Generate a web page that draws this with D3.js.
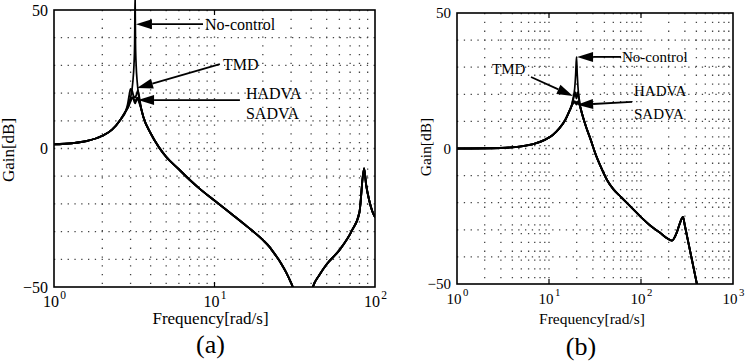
<!DOCTYPE html>
<html><head><meta charset="utf-8">
<script src="https://cdn.jsdelivr.net/npm/d3@7"></script>
<style>
body{margin:0;background:#fff}
svg{display:block}
text{font-family:"Liberation Serif","Times New Roman",serif;fill:#000}
</style>
</head><body>
<svg id="chart" width="747" height="361"></svg>
<script>
// ---------- Panel (a) data ----------
const aLowFreq = [1, 1.3, 1.6, 2, 2.3, 2.6, 2.8];
const aLowGain = [1.5, 1.9, 2.7, 4.6, 6.8, 10.5, 13.5];
const aNoCtrlFreq = [2.9, 3.0, 3.1, 3.15, 3.18, 3.2, 3.22, 3.25, 3.3, 3.4, 3.5];
const aNoCtrlGain = [14.9, 18.3, 24.2, 30.2, 38, 56, 38, 30, 23.9, 17.8, 14.2];
const aTmdFreq = [2.88, 2.95, 3.0, 3.06, 3.13, 3.2, 3.27, 3.33, 3.4, 3.5];
const aTmdGain = [16, 19.5, 21.5, 21, 19, 18.5, 19.5, 21, 18.5, 14.2];
const aHadvaFreq = [2.9, 3.0, 3.1, 3.2, 3.3, 3.4, 3.5];
const aHadvaGain = [15.5, 18, 18.3, 17, 18.3, 17, 14.2];
const aSadvaFreq = [2.9, 3.0, 3.1, 3.2, 3.3, 3.4, 3.5];
const aSadvaGain = [15, 17, 18.5, 16.3, 18, 16.5, 14.2];
const aHighFreq = [3.6, 4, 4.5, 5, 6, 7, 8, 10, 13, 16, 20, 22, 24, 26, 28, 30, 31, 34, 37, 41, 45, 50, 60, 72, 80, 85.5, 88, 92, 96, 100];
const aHighGain = [11.5, 5.5, 0.5, -3, -7.5, -11.3, -14.3, -18.8, -24, -28.2, -33, -35.5, -38.5, -41.5, -44.8, -48.5, -50.5, -62, -62, -50, -45.7, -41.8, -36.7, -29.5, -23, -7.2, -13, -18.7, -22.5, -24.8];
const aXTickExp = [0, 1, 2];

// ---------- Panel (b) data ----------
const bLowFreq = [1, 3, 5, 7, 9, 11, 13, 15, 16.5, 17.5];
const bLowGain = [0, 0.2, 0.8, 1.8, 3.2, 5, 7.5, 10.5, 13.5, 15.5];
const bNoCtrlFreq = [18, 19, 19.5, 19.9, 20.3, 21, 22];
const bNoCtrlGain = [17.5, 22, 27.5, 33.8, 27, 19.5, 15];
const bTmdFreq = [18, 18.6, 19.2, 19.9, 20.6, 21.2, 22];
const bTmdGain = [17, 19, 20.8, 18.5, 20.8, 18.5, 15];
const bHadvaFreq = [18, 19, 19.9, 20.8, 22];
const bHadvaGain = [16.5, 17.5, 16.2, 17.5, 15];
const bSadvaFreq = [18, 19, 19.9, 20.8, 22];
const bSadvaGain = [16.3, 16.9, 17, 16.8, 15];
const bHighFreq = [22.3, 25, 28.5, 32, 36.6, 42.7, 50, 60.6, 80, 100, 130, 160, 190, 217, 245, 265, 286, 300, 323, 360, 405, 440];
const bHighGain = [14.2, 8.5, 3.1, -2, -6.8, -11.6, -15, -17.9, -22, -25.3, -28.8, -31, -33, -34, -31, -27.5, -25.3, -28.5, -33.8, -41.5, -50, -56];
const bXTickExp = [0, 1, 2, 3];

// ---------- shared ----------
const yTickValues = [-50, 0, 50];
const yGridValues = [-40, -30, -20, -10, 0, 10, 20, 30, 40];
const seriesNames = ["No-control", "TMD", "HADVA", "SADVA"];

// annotations (data coordinates: frequency, gain)
const aNoteLabels = [["No-control"], ["TMD"], ["HADVA", "SADVA"]];
const aNoteTipFreq = [3.24, 3.29, 3.34];
const aNoteTipGain = [44.9, 21.8, 17.5];
const aNoteTailFreq = [8.48, 10.8, 14.4];
const aNoteTailGain = [44.9, 30.5, 17.5];
const aNoteTextFreq = [8.73, 11.3, 15.7];
const aNoteTextGain = [[44.9], [30.5], [19.7, 12.5]];

const bNoteLabels = [["No-control"], ["TMD"], ["HADVA", "SADVA"]];
const bNoteTipFreq = [20.2, 18.2, 20.2];
const bNoteTipGain = [33.8, 19.4, 16.1];
const bNoteTailFreq = [60.6, 6.37, 79.8];
const bNoteTailGain = [33.8, 26.4, 17.2];
const bNoteTextFreq = [62.1, 2.4, 83.9];
const bNoteTextGain = [[33.8], [29.3], [21.2, 12.7]];

function zip(f, g) { return f.map((v, i) => ({f: v, g: g[i]})); }
function build(low, peak, high) { return low.concat(peak, high); }

const panels = [
  {
    id: "a", caption: "(a)", xMax: 100, exps: aXTickExp,
    box: {l: 54, r: 375, t: 10, b: 287},
    tickFont: 16, titleFont: 17, noteFont: 16, capFont: 26,
    capY: 353, titleY: 324, gainX: 9, gainY: 150,
    series: [
      build(zip(aLowFreq, aLowGain), zip(aNoCtrlFreq, aNoCtrlGain), zip(aHighFreq, aHighGain)),
      build(zip(aLowFreq, aLowGain), zip(aTmdFreq, aTmdGain), zip(aHighFreq, aHighGain)),
      build(zip(aLowFreq, aLowGain), zip(aHadvaFreq, aHadvaGain), zip(aHighFreq, aHighGain)),
      build(zip(aLowFreq, aLowGain), zip(aSadvaFreq, aSadvaGain), zip(aHighFreq, aHighGain))
    ],
    notes: aNoteLabels.map((lab, i) => ({lab, tipF: aNoteTipFreq[i], tipG: aNoteTipGain[i],
      tailF: aNoteTailFreq[i], tailG: aNoteTailGain[i], tf: aNoteTextFreq[i], tg: aNoteTextGain[i]}))
  },
  {
    id: "b", caption: "(b)", xMax: 1000, exps: bXTickExp,
    box: {l: 457, r: 733, t: 13, b: 284},
    tickFont: 15, titleFont: 15.5, noteFont: 15, capFont: 26,
    capY: 355, titleY: 324, gainX: 426, gainY: 147,
    series: [
      build(zip(bLowFreq, bLowGain), zip(bNoCtrlFreq, bNoCtrlGain), zip(bHighFreq, bHighGain)),
      build(zip(bLowFreq, bLowGain), zip(bTmdFreq, bTmdGain), zip(bHighFreq, bHighGain)),
      build(zip(bLowFreq, bLowGain), zip(bHadvaFreq, bHadvaGain), zip(bHighFreq, bHighGain)),
      build(zip(bLowFreq, bLowGain), zip(bSadvaFreq, bSadvaGain), zip(bHighFreq, bHighGain))
    ],
    notes: bNoteLabels.map((lab, i) => ({lab, tipF: bNoteTipFreq[i], tipG: bNoteTipGain[i],
      tailF: bNoteTailFreq[i], tailG: bNoteTailGain[i], tf: bNoteTextFreq[i], tg: bNoteTextGain[i]}))
  }
];

const svg = d3.select("#chart");

panels.forEach(p => {
  const B = p.box;
  const x = d3.scaleLog().domain([1, p.xMax]).range([B.l, B.r]);
  const y = d3.scaleLinear().domain([-50, 50]).range([B.b, B.t]);
  const g = svg.append("g").attr("class", "panel-" + p.id);

  const nDec = p.exps.length - 1;
  const vGrid = [];
  for (let d = 0; d < nDec; d++) {
    const base = Math.pow(10, d);
    if (d > 0) vGrid.push(base);
    for (let k = 2; k <= 9; k++) vGrid.push(k * base);
  }
  g.append("g").selectAll("line").data(vGrid).join("line")
    .attr("x1", d => x(d)).attr("x2", d => x(d))
    .attr("y1", B.t).attr("y2", B.b)
    .attr("stroke", "#444").attr("stroke-width", 1.3)
    .attr("stroke-dasharray", "1.3,7.5");
  g.append("g").selectAll("line").data(yGridValues).join("line")
    .attr("x1", B.l).attr("x2", B.r)
    .attr("y1", d => y(d)).attr("y2", d => y(d))
    .attr("stroke", "#444").attr("stroke-width", 1.3)
    .attr("stroke-dasharray", "1.3,5.5");

  const clipId = "clip-" + p.id;
  svg.append("clipPath").attr("id", clipId).append("rect")
    .attr("x", B.l).attr("y", 0).attr("width", B.r - B.l).attr("height", B.b);

  const line = d3.line().x(d => x(d.f)).y(d => y(d.g)).curve(d3.curveMonotoneX);
  g.append("g").attr("clip-path", `url(#${clipId})`)
    .selectAll("path").data(p.series).join("path")
    .attr("d", line)
    .attr("fill", "none").attr("stroke", "#000")
    .attr("stroke-width", (d, i) => i === 0 ? 1.7 : 1.9)
    .attr("stroke-linejoin", "round")
    .attr("data-series", (d, i) => seriesNames[i]);

  g.append("rect").attr("x", B.l).attr("y", B.t)
    .attr("width", B.r - B.l).attr("height", B.b - B.t)
    .attr("fill", "none").attr("stroke", "#000").attr("stroke-width", 1.6);

  const decs = p.exps.slice(1, -1).map(e => Math.pow(10, e));
  g.append("g").selectAll("line").data(decs).join("line")
    .attr("x1", d => x(d)).attr("x2", d => x(d))
    .attr("y1", B.t).attr("y2", B.t + 5)
    .attr("stroke", "#000").attr("stroke-width", 1.2);
  g.append("g").selectAll("line").data(decs).join("line")
    .attr("x1", d => x(d)).attr("x2", d => x(d))
    .attr("y1", B.b).attr("y2", B.b - 5)
    .attr("stroke", "#000").attr("stroke-width", 1.2);

  const yAx = g.append("g").attr("transform", `translate(${B.l},0)`)
    .call(d3.axisLeft(y).tickValues(yTickValues).tickSize(0).tickPadding(6).tickFormat(d3.format("d")));
  yAx.select(".domain").remove();
  yAx.selectAll("text").attr("font-size", p.tickFont)
    .style("font-family", '"Liberation Serif","Times New Roman",serif');

  const xAx = g.append("g").attr("transform", `translate(0,${B.b})`)
    .call(d3.axisBottom(x).tickValues(p.exps.map(e => Math.pow(10, e))).tickSize(0).tickFormat(""));
  xAx.select(".domain").remove();
  xAx.selectAll(".tick").each(function(d, i) {
    const t = d3.select(this).select("text");
    t.attr("y", 20).attr("dy", 0).attr("font-size", p.tickFont)
      .style("font-family", '"Liberation Serif","Times New Roman",serif');
    t.append("tspan").text("10");
    t.append("tspan").attr("dy", -8).attr("dx", 1.5).attr("font-size", p.tickFont * 0.72).text(String(p.exps[i]));
  });

  g.append("text").attr("x", (B.l + B.r) / 2 + (p.id === "a" ? -4 : -3)).attr("y", p.titleY)
    .attr("text-anchor", "middle").attr("font-size", p.titleFont).text("Frequency[rad/s]");
  g.append("text").attr("transform", `translate(${p.gainX + 5},${p.gainY}) rotate(-90)`)
    .attr("text-anchor", "middle").attr("font-size", p.titleFont).text("Gain[dB]");
  g.append("text").attr("x", (B.l + B.r) / 2 + (p.id === "a" ? -4 : -14)).attr("y", p.capY)
    .attr("text-anchor", "middle").attr("font-size", p.capFont).text(p.caption);

  p.notes.forEach(n => {
    const x0 = x(n.tailF), y0 = y(n.tailG), x1 = x(n.tipF), y1 = y(n.tipG);
    const ang = Math.atan2(y1 - y0, x1 - x0);
    const L = 16, W = 5;
    const bx = x1 - L * Math.cos(ang), by = y1 - L * Math.sin(ang);
    g.append("line").attr("x1", x0).attr("y1", y0).attr("x2", bx).attr("y2", by)
      .attr("stroke", "#000").attr("stroke-width", 1.8);
    g.append("path")
      .attr("d", `M${x1},${y1}L${bx + W * Math.sin(ang)},${by - W * Math.cos(ang)}L${bx - W * Math.sin(ang)},${by + W * Math.cos(ang)}Z`)
      .attr("fill", "#000");
    n.lab.forEach((s, k) => {
      g.append("text").attr("x", x(n.tf)).attr("y", y(n.tg[k]))
        .attr("dominant-baseline", "central").attr("font-size", p.noteFont).text(s);
    });
  });
});
</script>
</body></html>
